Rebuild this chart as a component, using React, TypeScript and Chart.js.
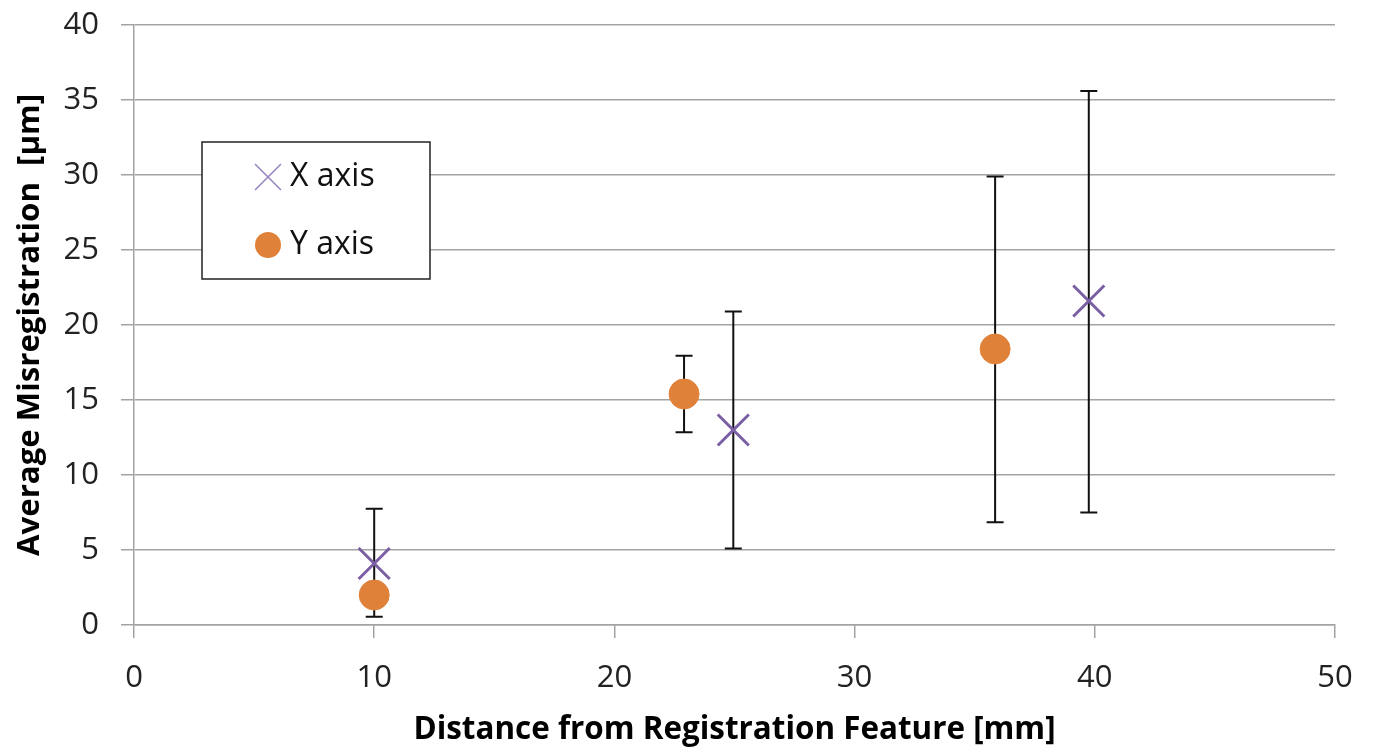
import React, { useEffect, useRef } from "react";
import { Chart, registerables } from "chart.js";

Chart.register(...registerables);

// ---- Data ----
const seriesNames = ["X axis", "Y axis"];

const xSeriesDist = [10, 24.95, 39.75];
const xSeriesMean = [4.1, 13.0, 21.6];
const xSeriesLow = [0.55, 5.1, 7.5];
const xSeriesHigh = [7.75, 20.9, 35.6];

const ySeriesDist = [10, 22.9, 35.85];
const ySeriesMean = [2.0, 15.4, 18.4];
const ySeriesLow: (number | null)[] = [null, 12.85, 6.85];
const ySeriesHigh: (number | null)[] = [null, 17.95, 29.9];

const xTitle = "Distance from Registration Feature [mm]";
const yTitle = "Average Misregistration  [\u03bcm]";
const xRange = [0, 50, 10];
const yRange = [0, 40, 5];

const FONT = "'Open Sans', 'DejaVu Sans', sans-serif";
const GRID = "#a3a3a3";
const PURPLE = "#7B5FA5";
const ORANGE = "#E0813A";

const errorBarPlugin = {
  id: "errorBars",
  beforeDatasetsDraw(chart: any) {
    const { ctx, scales } = chart;
    const xs = scales.x;
    const ys = scales.y;
    ctx.save();
    ctx.strokeStyle = "#111";
    ctx.lineWidth = 2;
    chart.data.datasets.forEach((ds: any) => {
      const lows = ds.errLow || [];
      const highs = ds.errHigh || [];
      ds.data.forEach((p: any, i: number) => {
        const lo = lows[i];
        const hi = highs[i];
        if (lo == null || hi == null) return;
        const px = xs.getPixelForValue(p.x);
        const pl = ys.getPixelForValue(lo);
        const ph = ys.getPixelForValue(hi);
        const cap = 8.5;
        ctx.beginPath();
        ctx.moveTo(px, pl);
        ctx.lineTo(px, ph);
        ctx.moveTo(px - cap, pl);
        ctx.lineTo(px + cap, pl);
        ctx.moveTo(px - cap, ph);
        ctx.lineTo(px + cap, ph);
        ctx.stroke();
      });
    });
    ctx.restore();
  },
};

const legendPlugin = {
  id: "boxLegend",
  afterDraw(chart: any) {
    const { ctx, chartArea } = chart;
    const left = chartArea.left + 68;
    const top = chartArea.top + 117;
    const w = 228;
    const h = 137;
    ctx.save();
    ctx.fillStyle = "#fff";
    ctx.fillRect(left, top, w, h);
    ctx.strokeStyle = "#222";
    ctx.lineWidth = 1.5;
    ctx.strokeRect(left, top, w, h);

    const mx = left + 66;
    const y1 = top + 35;
    const y2 = top + 103;
    // X marker
    ctx.strokeStyle = "#9a86c2";
    ctx.lineWidth = 1.6;
    const d = 13;
    ctx.beginPath();
    ctx.moveTo(mx - d, y1 - d);
    ctx.lineTo(mx + d, y1 + d);
    ctx.moveTo(mx - d, y1 + d);
    ctx.lineTo(mx + d, y1 - d);
    ctx.stroke();
    // circle marker
    ctx.fillStyle = ORANGE;
    ctx.beginPath();
    ctx.arc(mx, y2, 13, 0, Math.PI * 2);
    ctx.fill();

    ctx.fillStyle = "#111";
    ctx.font = `32px ${FONT}`;
    ctx.textAlign = "left";
    ctx.textBaseline = "middle";
    ctx.fillText(chart.data.datasets[0].label, mx + 22, y1);
    ctx.fillText(chart.data.datasets[1].label, mx + 22, y2);
    ctx.restore();
  },
};

export default function App() {
  const ref = useRef<HTMLCanvasElement>(null);
  useEffect(() => {
    document.body.style.margin = "0";
    const canvas = ref.current!;
    const chart = new Chart(canvas, {
      type: "scatter",
      data: {
        datasets: [
          {
            label: seriesNames[0],
            data: xSeriesDist.map((x, i) => ({ x, y: xSeriesMean[i] })),
            errLow: xSeriesLow,
            errHigh: xSeriesHigh,
            pointStyle: "crossRot",
            pointRadius: 22,
            pointBorderWidth: 3,
            borderColor: PURPLE,
            backgroundColor: PURPLE,
          } as any,
          {
            label: seriesNames[1],
            data: ySeriesDist.map((x, i) => ({ x, y: ySeriesMean[i] })),
            errLow: ySeriesLow,
            errHigh: ySeriesHigh,
            pointStyle: "circle",
            pointRadius: 15,
            pointBorderWidth: 1,
            borderColor: ORANGE,
            backgroundColor: ORANGE,
          } as any,
        ],
      },
      options: {
        responsive: false,
        animation: false,
        layout: { padding: { top: 23, right: 41, left: 0, bottom: 0 } },
        plugins: { legend: { display: false }, tooltip: { enabled: false } },
        scales: {
          x: {
            type: "linear",
            min: xRange[0],
            max: xRange[1],
            ticks: {
              stepSize: xRange[2],
              font: { family: FONT, size: 31 },
              color: "#222",
              padding: 22,
            },
            grid: {
              drawOnChartArea: false,
              drawTicks: true,
              tickLength: 13,
              color: GRID,
              lineWidth: 1.5,
            },
            border: { color: GRID, width: 1.5 },
            title: {
              display: true,
              text: xTitle,
              font: { family: FONT, size: 31.4, weight: "bold" },
              color: "#000",
              padding: { top: 0, bottom: 7 },
            },
            afterFit: (s: any) => {
              s.height = 131;
            },
          },
          y: {
            type: "linear",
            min: yRange[0],
            max: yRange[1],
            ticks: {
              stepSize: yRange[2],
              font: { family: FONT, size: 31 },
              color: "#222",
              padding: 22,
            },
            grid: {
              drawTicks: true,
              tickLength: 13,
              color: GRID,
              lineWidth: 1.5,
            },
            border: { color: GRID, width: 1.5 },
            title: {
              display: true,
              text: yTitle,
              font: { family: FONT, size: 31.2, weight: "bold" },
              color: "#000",
              padding: { top: 11, bottom: 0 },
            },
            afterFit: (s: any) => {
              s.width = 134;
              s.paddingTop = 0;
              s.paddingBottom = 0;
            },
          },
        },
      } as any,
      plugins: [errorBarPlugin, legendPlugin],
    });
    return () => chart.destroy();
  }, []);
  return (
    <canvas
      ref={ref}
      width={1376}
      height={756}
      style={{ display: "block", width: 1376, height: 756 }}
    />
  );
}
